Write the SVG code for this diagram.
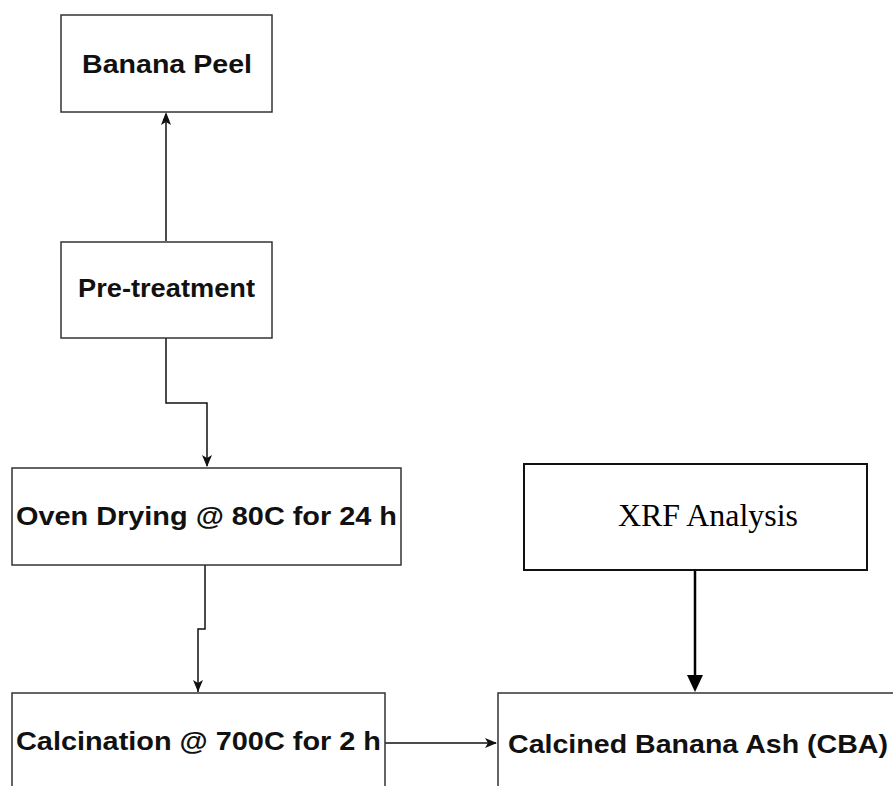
<svg xmlns="http://www.w3.org/2000/svg" width="893" height="786" viewBox="0 0 893 786">
<defs>
<style>
.box{fill:#fff;stroke:#333;stroke-width:1.5}
.xbox{fill:#fff;stroke:#111;stroke-width:2}
.lbl{font-family:"Liberation Sans",Arial,sans-serif;font-weight:bold;fill:#111;font-size:26px}
.ser{font-family:"Liberation Serif","Times New Roman",serif;fill:#000;font-size:31px}
.con{fill:none;stroke:#111;stroke-width:1.5}
.con2{fill:none;stroke:#000;stroke-width:2.5}
</style>
<marker id="ah" viewBox="0 0 10 10" refX="10" refY="5" markerWidth="7" markerHeight="7" markerUnits="userSpaceOnUse" orient="auto">
<path d="M0,0 L10,5 L0,10 L2.5,5 Z" fill="#111"/>
</marker>
<marker id="ah2" viewBox="0 0 10 10" refX="10" refY="5" markerWidth="16" markerHeight="16" markerUnits="userSpaceOnUse" orient="auto">
<path d="M0,0 L10,5 L0,10 Z" fill="#000"/>
</marker>
</defs>
<rect width="893" height="786" fill="#fff"/>
<g id="connectors">
<path class="con" d="M166,241 L166,114" marker-end="url(#ah)" style="stroke-width:1.5"/>
<path class="con" d="M166,338 L166,403 L207,403 L207,466"/>
<path class="con" d="M205,565 L205,629 L198,629 L198,692"/>
<path class="con" d="M385,743 L496,743"/>
<path class="con2" d="M695,570 L695,676"/>
</g>
<g id="arrowheads" fill="#111">
<path d="M166,112 L171,125 L166,122 L161,125 Z"/>
<path d="M207,467 L212,455 L207,458 L202,455 Z"/>
<path d="M198,692 L203,680 L198,683 L193,680 Z"/>
<path d="M497,743 L485,738 L488,743 L485,748 Z"/>
<path d="M695,692 L687,675 L703,675 Z" fill="#000"/>
</g>
<g id="banana-peel">
<rect class="box" x="61" y="15" width="211" height="97"/>
<text class="lbl" x="82" y="73" textLength="170" lengthAdjust="spacingAndGlyphs" font-size="27">Banana Peel</text>
</g>
<g id="pre-treatment">
<rect class="box" x="61" y="242" width="211" height="96"/>
<text class="lbl" x="78" y="297" textLength="177" lengthAdjust="spacingAndGlyphs">Pre-treatment</text>
</g>
<g id="oven-drying">
<rect class="box" x="12" y="468" width="389" height="97"/>
<text class="lbl" x="16" y="525" textLength="381" lengthAdjust="spacingAndGlyphs">Oven Drying @ 80C for 24 h</text>
</g>
<g id="calcination">
<rect class="box" x="12" y="693" width="373" height="110"/>
<text class="lbl" x="16" y="750" textLength="365" lengthAdjust="spacingAndGlyphs">Calcination @ 700C for 2 h</text>
</g>
<g id="xrf">
<rect class="xbox" x="524" y="464" width="343" height="106"/>
<text class="ser" x="618" y="526" textLength="180" lengthAdjust="spacingAndGlyphs">XRF Analysis</text>
</g>
<g id="cba">
<rect class="box" x="498" y="693" width="420" height="110"/>
<text class="lbl" x="508" y="753" textLength="380" lengthAdjust="spacingAndGlyphs">Calcined Banana Ash (CBA)</text>
</g>
</svg>
